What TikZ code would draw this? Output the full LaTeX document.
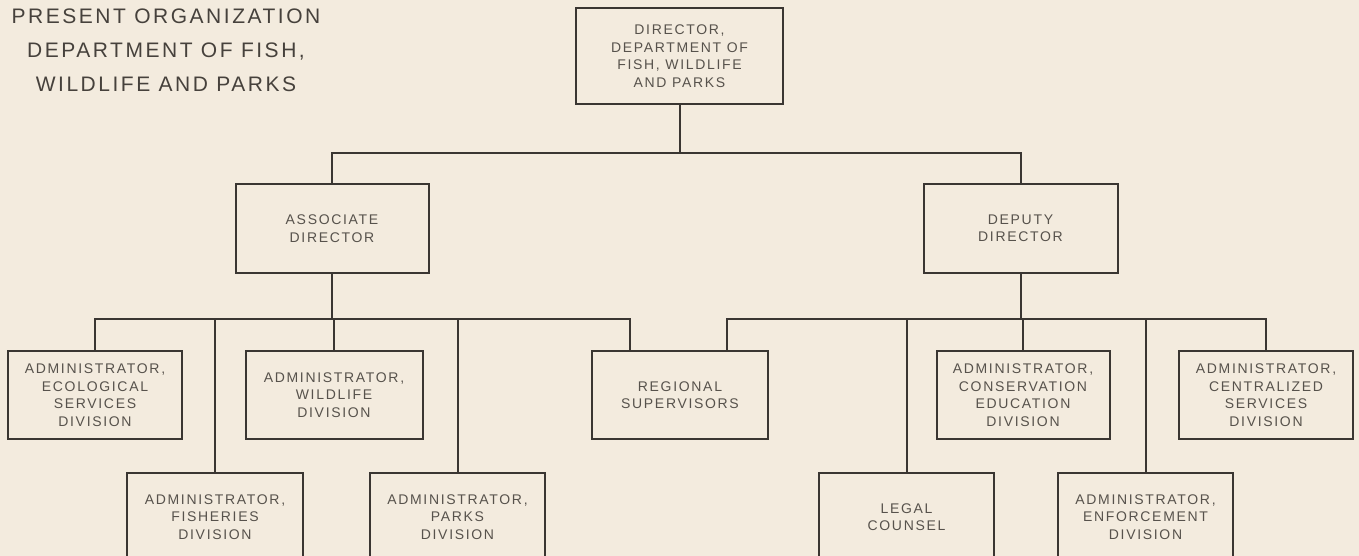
\documentclass[tikz,border=0pt]{standalone}
\usepackage{fontspec}
\setmainfont{Liberation Sans}
\newfontfamily\boxfont[LetterSpace=12]{Liberation Sans}
\newfontfamily\headfont[LetterSpace=12]{Liberation Sans}
\definecolor{paper}{HTML}{F3EBDE}
\definecolor{ink}{HTML}{3A3632}
\definecolor{boxtext}{HTML}{57524C}
\definecolor{headink}{HTML}{46413C}
\tikzset{
  orgbox/.style={draw=ink, line width=2pt, text=boxtext, align=center,
    inner sep=0pt, minimum height=88pt,
    font=\boxfont\fontsize{14}{17.5}\selectfont},
  wire/.style={draw=ink, line width=2pt, line join=miter},
  heading/.style={text=headink, align=center,
    font=\headfont\fontsize{21}{34}\selectfont}
}
\begin{document}
\begin{tikzpicture}[x=1pt,y=-1pt]
\useasboundingbox (0,0) rectangle (1359,556);
\fill[paper] (0,0) rectangle (1359,556);
\clip (0,0) rectangle (1359,556);

% title block
\node[heading] (title) at (166,50) {PRESENT ORGANIZATION\\DEPARTMENT OF FISH,\\WILDLIFE AND PARKS};

% top level
\node[orgbox, minimum width=207pt, minimum height=96pt] (director) at (679.5,56)
  {DIRECTOR,\\DEPARTMENT OF\\FISH, WILDLIFE\\AND PARKS};

% second level
\node[orgbox, minimum width=193pt, minimum height=89pt] (assoc) at (332,228.5) {ASSOCIATE\\DIRECTOR};
\node[orgbox, minimum width=194pt, minimum height=89pt] (deputy) at (1020.5,228.5) {DEPUTY\\DIRECTOR};

% third level, upper row
\node[orgbox, minimum width=174pt] (ecol) at (95,395) {ADMINISTRATOR,\\ECOLOGICAL\\SERVICES\\DIVISION};
\node[orgbox, minimum width=177pt] (wild) at (334,395) {ADMINISTRATOR,\\WILDLIFE\\DIVISION};
\node[orgbox, minimum width=176pt] (regional) at (680,395) {REGIONAL\\SUPERVISORS};
\node[orgbox, minimum width=173pt] (conserv) at (1023,395) {ADMINISTRATOR,\\CONSERVATION\\EDUCATION\\DIVISION};
\node[orgbox, minimum width=174pt] (central) at (1266,395) {ADMINISTRATOR,\\CENTRALIZED\\SERVICES\\DIVISION};

% third level, lower row
\node[orgbox, minimum width=176pt] (fish) at (215,517) {ADMINISTRATOR,\\FISHERIES\\DIVISION};
\node[orgbox, minimum width=175pt] (parks) at (457.5,517) {ADMINISTRATOR,\\PARKS\\DIVISION};
\node[orgbox, minimum width=175pt] (legal) at (906.5,517) {LEGAL\\COUNSEL};
\node[orgbox, minimum width=175pt] (enforce) at (1145.5,517) {ADMINISTRATOR,\\ENFORCEMENT\\DIVISION};

% director to associate and deputy
\draw[wire] (director.south) -- ++(0,48) -| (assoc.north);
\draw[wire] (director.south) -- ++(0,48) -| (deputy.north);

% associate director's branch
\coordinate (abus) at (332,319);
\coordinate (regA) at ([xshift=-50pt]regional.north);
\draw[wire] (assoc.south) -- (abus);
\draw[wire] (ecol.north) |- (regA |- abus) -- (regA);
\draw[wire] (fish.north) -- (fish.north |- abus);
\draw[wire] (wild.north) -- (wild.north |- abus);
\draw[wire] (parks.north) -- (parks.north |- abus);

% deputy director's branch
\coordinate (dbus) at (1020.5,319);
\coordinate (regD) at ([xshift=47pt]regional.north);
\draw[wire] (deputy.south) -- (dbus);
\draw[wire] (regD) |- (central.north |- dbus) -- (central.north);
\draw[wire] (legal.north) -- (legal.north |- dbus);
\draw[wire] (conserv.north) -- (conserv.north |- dbus);
\draw[wire] (enforce.north) -- (enforce.north |- dbus);
\end{tikzpicture}
\end{document}
